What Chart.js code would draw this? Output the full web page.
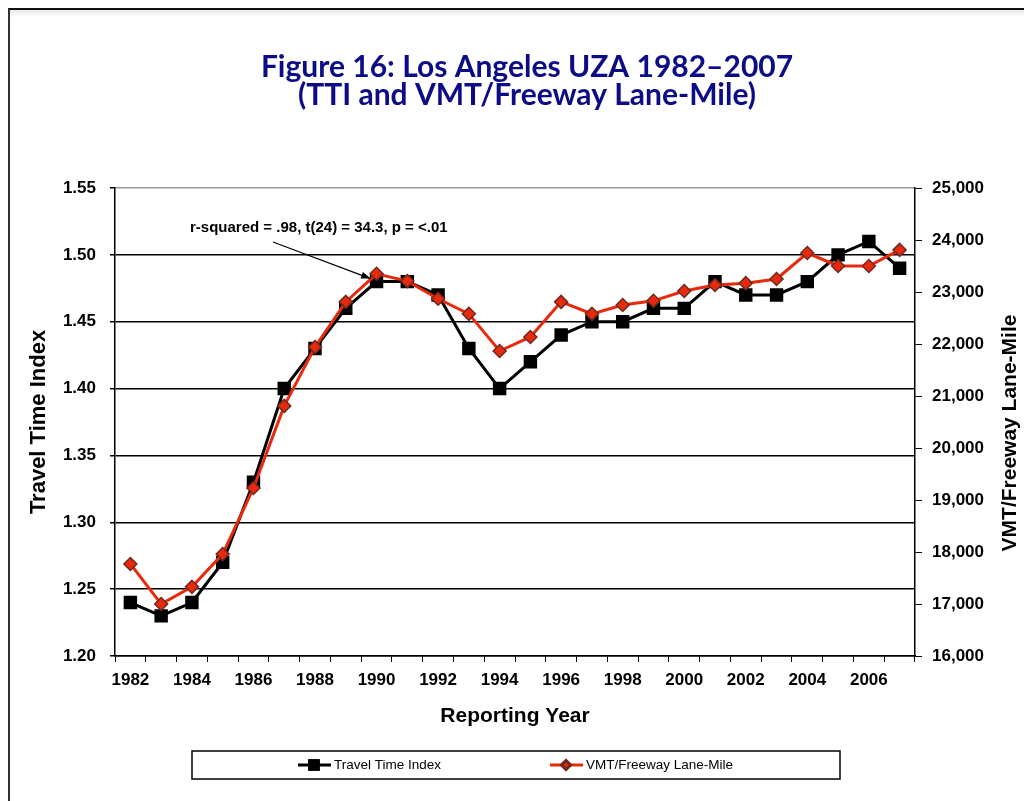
<!DOCTYPE html>
<html>
<head>
<meta charset="utf-8">
<script src="https://cdn.jsdelivr.net/npm/chart.js@4/dist/chart.umd.min.js"></script>
<style>
  html, body { margin: 0; padding: 0; background: #fff; }
  #wrap { position: relative; width: 1024px; height: 801px; overflow: hidden; }
  #frame {
    position: absolute; left: 8px; top: 8px; width: 1100px; height: 900px;
    border-top: 2px solid #111; border-left: 2px solid #333;
    box-shadow: inset 0 6px 6px -4px rgba(0,0,0,0.12);
  }
  #chart { position: absolute; left: 0; top: 0; }
</style>
</head>
<body>
<div id="wrap">
  <div id="frame"></div>
  <canvas id="chart" width="1024" height="801"></canvas>
</div>
<script>
// Dados do gráfico
const years = ['1982','1983','1984','1985','1986','1987','1988','1989','1990','1991','1992','1993','1994',
               '1995','1996','1997','1998','1999','2000','2001','2002','2003','2004','2005','2006','2007'];
const ttiValues = [1.24, 1.23, 1.24, 1.27, 1.33, 1.40, 1.43, 1.46, 1.48, 1.48, 1.47, 1.43, 1.40,
                   1.42, 1.44, 1.45, 1.45, 1.46, 1.46, 1.48, 1.47, 1.47, 1.48, 1.50, 1.51, 1.49];
const vmtValues = [17770, 17000, 17330, 17960, 19230, 20810, 21940, 22810, 23350, 23210, 22870, 22580, 21865,
                   22135, 22810, 22580, 22750, 22830, 23020, 23135, 23170, 23250, 23750, 23500, 23500, 23810];
const titleLines = ['Figure 16: Los Angeles UZA 1982\u20132007', '(TTI and VMT/Freeway Lane-Mile)'];
const annotationText = 'r-squared = .98, t(24) = 34.3, p = <.01';
const annotationYear = '1990';

const ARIAL = '"Liberation Sans", Arial, sans-serif';
const RED = '#e82a0c';

// Título, anotação, título do eixo direito e legenda
const decorPlugin = {
    id: 'decor',
    afterDraw(chart) {
        const ctx = chart.ctx;
        const { x, y } = chart.scales;
        ctx.save();

        // Título
        ctx.fillStyle = '#0c0c86';
        ctx.font = 'bold 30px Lato, "Open Sans", sans-serif';
        ctx.textAlign = 'center';
        ctx.textBaseline = 'middle';
        ctx.fillText(titleLines[0], 527, 67);
        ctx.fillText(titleLines[1], 527, 95);

        // Anotação com seta
        ctx.fillStyle = '#000';
        ctx.font = 'bold 15px ' + ARIAL;
        ctx.textAlign = 'left';
        ctx.fillText(annotationText, 190, 228);
        const idx = years.indexOf(annotationYear);
        const tx = x.getPixelForValue(idx) - 6;
        const ty = y.getPixelForValue(ttiValues[idx]) - 3;
        const sx = 273, sy = 242;
        ctx.strokeStyle = '#000';
        ctx.lineWidth = 1.2;
        ctx.beginPath();
        ctx.moveTo(sx, sy);
        ctx.lineTo(tx, ty);
        ctx.stroke();
        const ang = Math.atan2(ty - sy, tx - sx);
        ctx.beginPath();
        ctx.moveTo(tx, ty);
        ctx.lineTo(tx - 10 * Math.cos(ang - 0.35), ty - 10 * Math.sin(ang - 0.35));
        ctx.lineTo(tx - 10 * Math.cos(ang + 0.35), ty - 10 * Math.sin(ang + 0.35));
        ctx.closePath();
        ctx.fill();

        // Título do eixo direito (lido de baixo para cima)
        ctx.save();
        ctx.translate(1010, 433);
        ctx.rotate(-Math.PI / 2);
        ctx.textAlign = 'center';
        ctx.font = 'bold 21px ' + ARIAL;
        ctx.fillText('VMT/Freeway Lane-Mile', 0, 0);
        ctx.restore();

        // Legenda
        ctx.strokeStyle = '#000';
        ctx.lineWidth = 1.5;
        ctx.strokeRect(192, 751, 648, 28);
        const items = [
            { ds: chart.data.datasets[1], x0: 298 },
            { ds: chart.data.datasets[0], x0: 550 }
        ];
        const ly = 765;
        ctx.font = '13.5px ' + ARIAL;
        items.forEach(it => {
            ctx.strokeStyle = it.ds.borderColor;
            ctx.lineWidth = 3;
            ctx.beginPath();
            ctx.moveTo(it.x0, ly);
            ctx.lineTo(it.x0 + 33, ly);
            ctx.stroke();
            Chart.helpers.drawPoint(ctx, {
                pointStyle: it.ds.pointStyle,
                radius: it.ds.pointStyle === 'rect' ? 6 : 4.5,
                borderWidth: 1
            }, it.x0 + 16, ly);
            ctx.fillStyle = it.ds.pointBackgroundColor;
            ctx.strokeStyle = it.ds.pointBorderColor;
            ctx.fill();
            ctx.stroke();
            ctx.fillStyle = '#000';
            ctx.textAlign = 'left';
            ctx.fillText(it.ds.label, it.x0 + 36, ly);
        });
        ctx.restore();
    }
};

const chart = new Chart(document.getElementById('chart'), {
    type: 'line',
    data: {
        labels: years,
        datasets: [{
            label: 'VMT/Freeway Lane-Mile',
            data: vmtValues,
            yAxisID: 'y1',
            order: 0,
            borderColor: RED,
            borderWidth: 3,
            pointStyle: 'rectRot',
            pointRadius: 6.5,
            pointBackgroundColor: RED,
            pointBorderColor: '#6e2a22',
            pointBorderWidth: 1.5,
            tension: 0
        }, {
            label: 'Travel Time Index',
            data: ttiValues,
            yAxisID: 'y',
            order: 1,
            borderColor: '#000',
            borderWidth: 3,
            pointStyle: 'rect',
            pointRadius: 9.5,
            pointBackgroundColor: '#000',
            pointBorderColor: '#000',
            pointBorderWidth: 0,
            tension: 0
        }]
    },
    options: {
        responsive: false,
        animation: false,
        layout: { padding: { left: 0, right: 10, top: 188, bottom: 70 } },
        plugins: {
            legend: { display: false },
            title: { display: false },
            tooltip: { enabled: false }
        },
        scales: {
            x: {
                offset: true,
                grid: { drawOnChartArea: false, offset: true, tickLength: 6, color: '#000' },
                border: { color: '#000', width: 1.5 },
                ticks: {
                    autoSkip: false,
                    maxRotation: 0,
                    padding: 8,
                    color: '#000',
                    font: { family: ARIAL, size: 17, weight: 'bold' },
                    callback: (v, i) => i % 2 === 0 ? years[i] : ''
                },
                title: {
                    display: true,
                    text: 'Reporting Year',
                    color: '#000',
                    font: { family: ARIAL, size: 21, weight: 'bold' },
                    padding: { top: 0, bottom: 2 }
                },
                afterFit: s => { s.height = 75; }
            },
            y: {
                position: 'left',
                min: 1.20,
                max: 1.55,
                ticks: {
                    stepSize: 0.05,
                    padding: 14,
                    color: '#000',
                    font: { family: ARIAL, size: 17, weight: 'bold' },
                    callback: v => v.toFixed(2)
                },
                grid: {
                    tickLength: 5,
                    lineWidth: 1.5,
                    color: c => c.tick && Math.abs(c.tick.value - 1.55) < 1e-6 ? '#9a9a9a' : '#000',
                    tickColor: '#000'
                },
                border: { color: '#000', width: 1.5 },
                title: {
                    display: true,
                    text: 'Travel Time Index',
                    color: '#000',
                    font: { family: ARIAL, size: 22, weight: 'bold' },
                    padding: { top: 26, bottom: 0 }
                },
                afterFit: s => { s.width = 115; }
            },
            y1: {
                position: 'right',
                min: 16000,
                max: 25000,
                ticks: {
                    stepSize: 1000,
                    padding: 10,
                    color: '#000',
                    font: { family: ARIAL, size: 17, weight: 'bold' },
                    callback: v => v.toLocaleString('en-US')
                },
                grid: { drawOnChartArea: false, tickLength: 7, color: '#000' },
                border: { color: '#000', width: 1.5 },
                afterFit: s => { s.width = 99; }
            }
        }
    },
    plugins: [decorPlugin]
});
</script>
</body>
</html>
